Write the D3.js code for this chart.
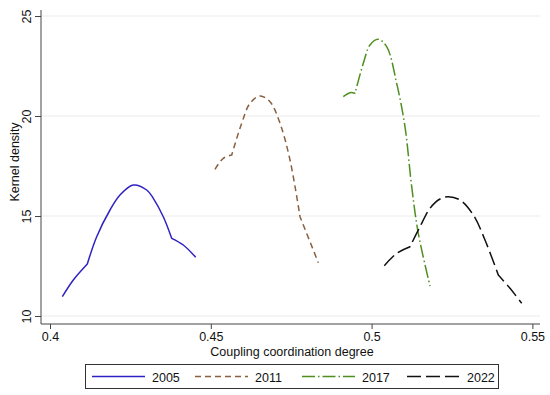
<!DOCTYPE html>
<html>
<head>
<meta charset="utf-8">
<style>
  body { margin: 0; background: #fff; }
  svg text { font-family: Arial, "Liberation Sans", sans-serif; fill: #111; }
</style>
<script src="https://d3js.org/d3.v7.min.js"></script>
</head>
<body>
<svg id="chart" width="550" height="395"></svg>
<script>
// data (kernel density curves)
var years = ["2005", "2011", "2017", "2022"];

var x2005 = [0.40383, 0.40725, 0.4116, 0.41452, 0.41866, 0.42177, 0.4259, 0.43007, 0.43212, 0.43523, 0.43784, 0.44145, 0.4453];
var y2005 = [10.965, 11.8, 12.6, 13.965, 15.3, 16.05, 16.55, 16.3, 15.885, 14.965, 13.885, 13.55, 12.935];

var x2011 = [0.4513, 0.45389, 0.4565, 0.4596, 0.46219, 0.4653, 0.46841, 0.47152, 0.47463, 0.47774, 0.48343];
var y2011 = [17.335, 17.885, 18.05, 19.635, 20.635, 21.0, 20.715, 19.635, 17.8, 14.965, 12.665];

var x2017 = [0.4912, 0.49328, 0.49484, 0.49742, 0.4995, 0.50208, 0.50469, 0.5078, 0.51038, 0.51247, 0.51452, 0.51816];
var y2017 = [20.965, 21.165, 21.135, 22.635, 23.55, 23.835, 23.465, 21.635, 19.465, 16.465, 14.135, 11.5];

var x2022 = [0.50395, 0.5078, 0.51194, 0.51505, 0.51816, 0.52127, 0.52385, 0.52749, 0.53163, 0.53526, 0.5394, 0.54304, 0.54667];
var y2022 = [12.515, 13.135, 13.465, 14.465, 15.385, 15.85, 15.965, 15.8, 15.05, 13.8, 12.05, 11.385, 10.635];

// indices where the density curve has a visible corner
var kinks2005 = [2, 10];
var kinks2011 = [2, 9];
var kinks2017 = [2];
var kinks2022 = [2, 10];

var xTicks = [0.4, 0.45, 0.5, 0.55];
var yTicks = [10, 15, 20, 25];

var series = [
  { name: years[0], xs: x2005, ys: y2005, kinks: kinks2005, color: "#2f22c2", dash: null },
  { name: years[1], xs: x2011, ys: y2011, kinks: kinks2011, color: "#8a6040", dash: "6,4" },
  { name: years[2], xs: x2017, ys: y2017, kinks: kinks2017, color: "#4f8f1f", dash: "13,3,1.5,3" },
  { name: years[3], xs: x2022, ys: y2022, kinks: kinks2022, color: "#111111", dash: "14,5" }
];

var svg = d3.select("#chart");

var x = d3.scaleLinear().domain([0.4, 0.55]).range([50, 532.4]);
var y = d3.scaleLinear().domain([10, 25]).range([316, 16]);

var plotLeft = 41, plotRight = 540, plotBottom = 324;

// gridlines
svg.append("g")
  .selectAll("line")
  .data(yTicks)
  .enter().append("line")
  .attr("x1", plotLeft).attr("x2", plotRight)
  .attr("y1", function (d) { return y(d); })
  .attr("y2", function (d) { return y(d); })
  .attr("stroke", "#ececec")
  .attr("stroke-width", 1.2);

// y axis
var yAxis = svg.append("g")
  .attr("transform", "translate(" + plotLeft + ",0)")
  .call(d3.axisLeft(y).tickValues(yTicks).tickSize(6).tickSizeOuter(0).tickFormat(d3.format("d")));
yAxis.select(".domain").attr("d", "M0,10V" + plotBottom).attr("stroke", "#444");
yAxis.selectAll(".tick line").attr("stroke", "#444");
yAxis.selectAll(".tick text")
  .attr("font-size", "12.5px")
  .attr("text-anchor", "middle")
  .attr("x", 0).attr("dy", 0)
  .attr("transform", "translate(-10,0) rotate(-90)");

// x axis
var xAxis = svg.append("g")
  .attr("transform", "translate(0," + plotBottom + ")")
  .call(d3.axisBottom(x).tickValues(xTicks).tickSize(5).tickSizeOuter(0).tickFormat(function (d) { return String(+d.toFixed(2)); }));
xAxis.select(".domain").attr("d", "M" + plotLeft + ",0H" + plotRight).attr("stroke", "#444");
xAxis.selectAll(".tick line").attr("stroke", "#444");
xAxis.selectAll(".tick text")
  .attr("font-size", "12.5px")
  .attr("y", 8).attr("dy", "0.71em");

// axis titles
svg.append("text")
  .attr("x", 292).attr("y", 356)
  .attr("text-anchor", "middle")
  .attr("font-size", "12.5px")
  .text("Coupling coordination degree");

svg.append("text")
  .attr("transform", "translate(19,162) rotate(-90)")
  .attr("text-anchor", "middle")
  .attr("font-size", "12.5px")
  .text("Kernel density");

// curves: smooth pieces joined at the corners
var line = d3.line()
  .x(function (d) { return x(d[0]); })
  .y(function (d) { return y(d[1]); })
  .curve(d3.curveCatmullRom.alpha(0.5));

series.forEach(function (s) {
  var pts = s.xs.map(function (v, i) { return [v, s.ys[i]]; });
  var cuts = [0].concat(s.kinks, [pts.length - 1]);
  var d = "";
  for (var k = 0; k < cuts.length - 1; k++) {
    var seg = line(pts.slice(cuts[k], cuts[k + 1] + 1));
    d += k === 0 ? seg : seg.replace(/^M[^A-Za-z]*/, "");
  }
  svg.append("path")
    .attr("d", d)
    .attr("fill", "none")
    .attr("stroke", s.color)
    .attr("stroke-width", 1.5)
    .attr("stroke-dasharray", s.dash);
});

// legend
var legend = svg.append("g");
legend.append("rect")
  .attr("x", 85.5).attr("y", 364.5)
  .attr("width", 413).attr("height", 24)
  .attr("fill", "#fff")
  .attr("stroke", "#333");

var legX = [92, 195, 302, 407];
series.forEach(function (s, i) {
  legend.append("line")
    .attr("x1", legX[i]).attr("x2", legX[i] + 53)
    .attr("y1", 376.5).attr("y2", 376.5)
    .attr("stroke", s.color)
    .attr("stroke-width", 1.5)
    .attr("stroke-dasharray", s.dash);
  legend.append("text")
    .attr("x", legX[i] + 60).attr("y", 381.5)
    .attr("font-size", "12.5px")
    .text(s.name);
});
</script>
</body>
</html>
